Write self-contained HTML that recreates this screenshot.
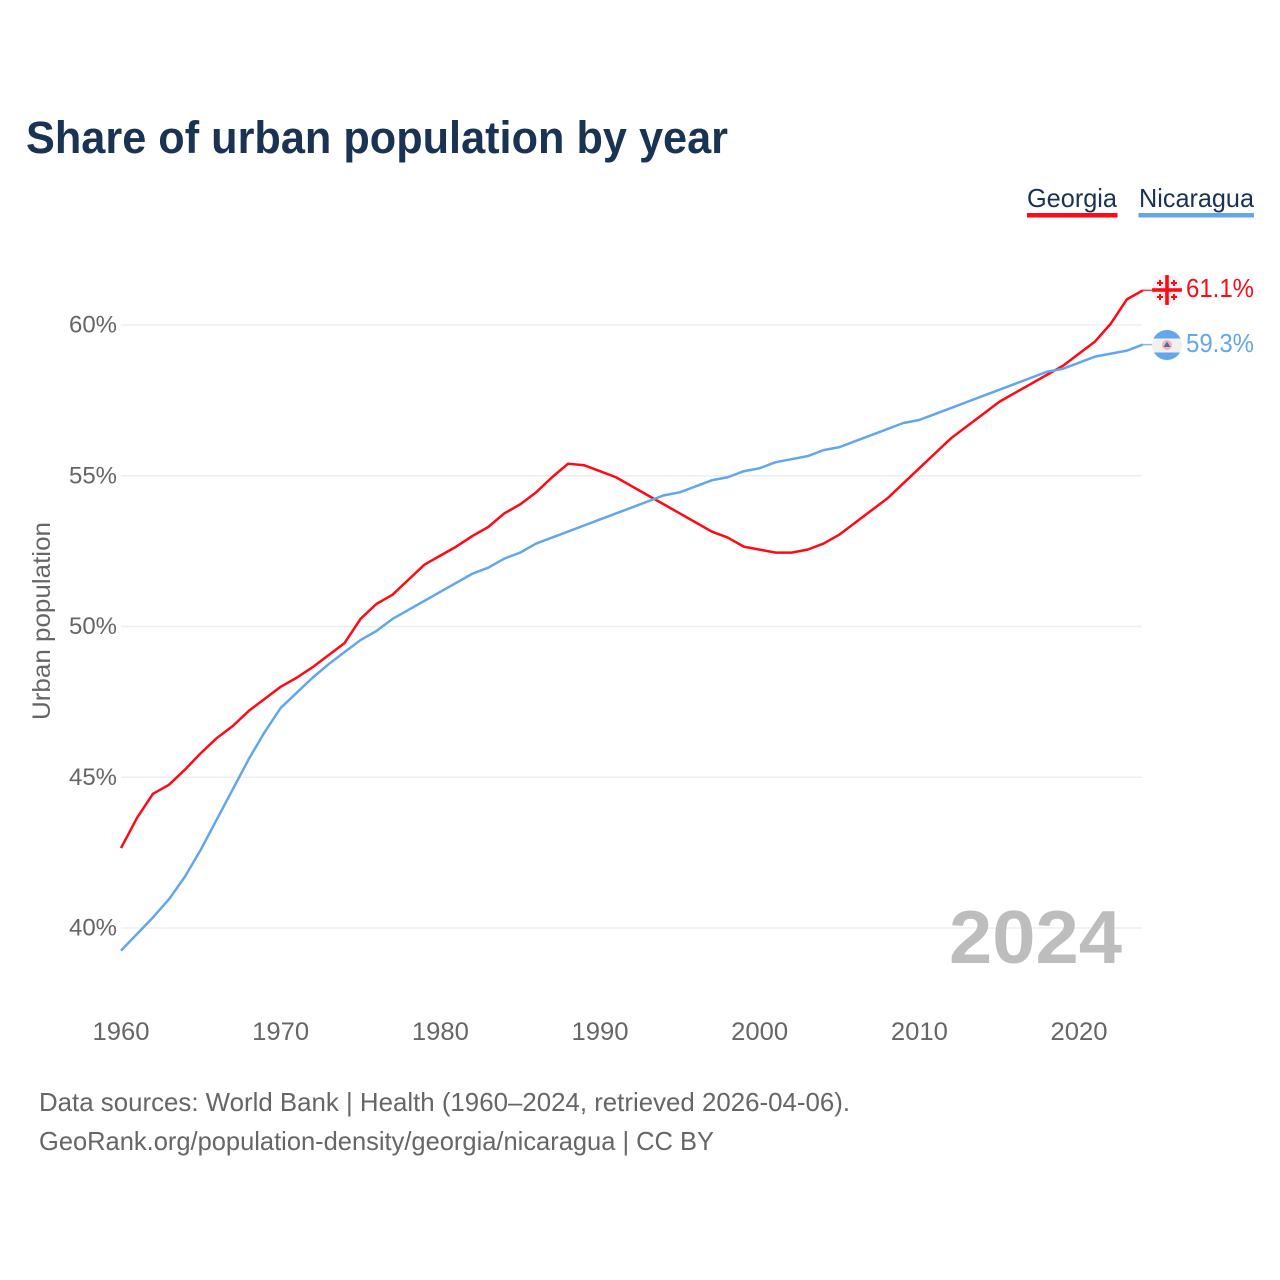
<!DOCTYPE html>
<html>
<head>
<meta charset="utf-8">
<title>Share of urban population by year</title>
<style>
html,body{margin:0;padding:0;background:#fff;width:1280px;height:1280px;overflow:hidden}
svg{display:block}
text{font-family:"Liberation Sans",sans-serif}
</style>
</head>
<body>
<svg id="chart" width="1280" height="1280" viewBox="0 0 1280 1280" xmlns="http://www.w3.org/2000/svg">
<text x="26" y="153" font-size="45" font-weight="700" fill="#1a3353" textLength="702" lengthAdjust="spacingAndGlyphs">Share of urban population by year</text>
<g>
<text x="1027" y="207" font-size="26" fill="#1a3353" textLength="90" lengthAdjust="spacingAndGlyphs">Georgia</text>
<rect x="1027" y="213" width="90.500" height="4.500" fill="#ff0a14"/>
</g>
<g>
<text x="1139" y="207" font-size="26" fill="#1a3353" textLength="115" lengthAdjust="spacingAndGlyphs">Nicaragua</text>
<rect x="1138.500" y="213" width="115.500" height="4.500" fill="#62a6ec"/>
</g>
<g id="grid"></g>
<g id="yticks"></g>
<g id="xticks"></g>
<text transform="translate(50,621) rotate(-90)" text-anchor="middle" font-size="25" fill="#666" textLength="198" lengthAdjust="spacingAndGlyphs">Urban population</text>
<text x="949" y="963" font-size="75" font-weight="700" fill="#bdbdbd" textLength="173" lengthAdjust="spacingAndGlyphs">2024</text>
<g id="series"></g>
<g>
<clipPath id="clipG"><circle cx="1167" cy="290" r="15"/></clipPath>
<g clip-path="url(#clipG)">
<rect x="1152" y="275" width="30" height="30" fill="#f0f0f0"/>
<rect x="1165.200" y="275" width="3.600" height="30" fill="#ff0a14"/>
<rect x="1152" y="288.200" width="30" height="3.600" fill="#ff0a14"/>
<path d="M1160 280v6M1157 283h6M1174 280v6M1171 283h6M1160 294v6M1157 297h6M1174 294v6M1171 297h6" stroke="#ff0a14" stroke-width="2" fill="none"/>
</g>
</g>
<g>
<clipPath id="clipN"><circle cx="1167" cy="345" r="15"/></clipPath>
<g clip-path="url(#clipN)">
<rect x="1152" y="330" width="30" height="9" fill="#62a6ec"/>
<rect x="1152" y="338.500" width="30" height="14" fill="#f0f0f0"/>
<rect x="1152" y="352.500" width="30" height="8" fill="#62a6ec"/>
<circle cx="1167" cy="345" r="5" fill="#f5b5b0"/>
<path d="M1167 341.500l3.500 5.500h-7z" fill="#4a6fa5"/>
</g>
</g>
<text x="1186" y="297" font-size="26" fill="#ff0a14" textLength="68" lengthAdjust="spacingAndGlyphs">61.1%</text>
<text x="1186" y="352" font-size="26" fill="#62a6ec" textLength="68" lengthAdjust="spacingAndGlyphs">59.3%</text>
<text x="39" y="1111" font-size="26" fill="#666" textLength="811" lengthAdjust="spacingAndGlyphs">Data sources: World Bank | Health (1960–2024, retrieved 2026-04-06).</text>
<text x="39" y="1150" font-size="26" fill="#666" textLength="675" lengthAdjust="spacingAndGlyphs">GeoRank.org/population-density/georgia/nicaragua | CC BY</text>
</svg>
<script>
const startYear = 1960;
const georgiaValues = [42.65,43.65,44.45,44.75,45.25,45.8,46.3,46.7,47.2,47.6,48.0,48.3,48.65,49.05,49.45,50.25,50.75,51.05,51.55,52.05,52.35,52.65,53.0,53.3,53.75,54.05,54.45,54.95,55.4,55.35,55.15,54.95,54.65,54.35,54.05,53.75,53.45,53.15,52.95,52.65,52.55,52.45,52.45,52.55,52.75,53.05,53.45,53.85,54.25,54.75,55.25,55.75,56.25,56.65,57.05,57.45,57.75,58.05,58.35,58.65,59.05,59.45,60.05,60.85,61.15];
const nicaraguaValues = [39.25,39.8,40.35,40.95,41.7,42.6,43.6,44.6,45.6,46.5,47.3,47.8,48.3,48.75,49.15,49.55,49.85,50.25,50.55,50.85,51.15,51.45,51.75,51.95,52.25,52.45,52.75,52.95,53.15,53.35,53.55,53.75,53.95,54.15,54.35,54.45,54.65,54.85,54.95,55.15,55.25,55.45,55.55,55.65,55.85,55.95,56.15,56.35,56.55,56.75,56.85,57.05,57.25,57.45,57.65,57.85,58.05,58.25,58.45,58.55,58.75,58.95,59.05,59.15,59.35];
const yTicks = [40,45,50,55,60];
const xTicks = [1960,1970,1980,1990,2000,2010,2020];

const NS = 'http://www.w3.org/2000/svg';
function xScale(year){ return 121 + (year - 1960) * (1079 - 121) / 60; }
function yScale(pct){ return 928 - (pct - 40) * (928 - 325) / 20; }
function make(tag, attrs, parent){
  const el = document.createElementNS(NS, tag);
  for (const k in attrs) el.setAttribute(k, attrs[k]);
  parent.appendChild(el);
  return el;
}
const grid = document.getElementById('grid');
const yG = document.getElementById('yticks');
const xG = document.getElementById('xticks');
const seriesG = document.getElementById('series');

yTicks.forEach(function(t){
  const line = make('line', {x1:121, x2:1142, y1:yScale(t), y2:yScale(t), stroke:'#eeeeee', 'stroke-width':1.500}, grid);
  
  
  const label = make('text', {x:117, y:yScale(t)+7.500, 'text-anchor':'end', 'font-size':24, fill:'#666', textLength:48, lengthAdjust:'spacingAndGlyphs'}, yG);
  
  
  label.textContent = t + '%';
});
xTicks.forEach(function(t){
  const label = make('text', {x:xScale(t), y:1040, 'text-anchor':'middle', 'font-size':25, fill:'#666', textLength:57, lengthAdjust:'spacingAndGlyphs'}, xG);
  
  
  label.textContent = t;
});
function drawSeries(values, color){
  const pts = values.map(function(v, i){ return xScale(startYear + i).toFixed(2) + ',' + yScale(v).toFixed(2); });
  const line = make('polyline', {points:pts.join(' '), fill:'none', stroke:color, 'stroke-width':2.500, 'stroke-linejoin':'round'}, seriesG);
  return line;
}
function drawConnector(values, color){
  const last = values[values.length - 1];
  const x = xScale(startYear + values.length - 1);
  return make('line', {x1:x, x2:x + 9, y1:yScale(last), y2:yScale(last), stroke:color, 'stroke-width':1.500, opacity:0.8}, seriesG);
}
const georgiaLine = drawSeries(georgiaValues, '#ff0a14');


const nicaraguaLine = drawSeries(nicaraguaValues, '#62a6ec');


const georgiaConnector = drawConnector(georgiaValues, '#ff0a14');


const nicaraguaConnector = drawConnector(nicaraguaValues, '#62a6ec');


</script>
</body>
</html>
